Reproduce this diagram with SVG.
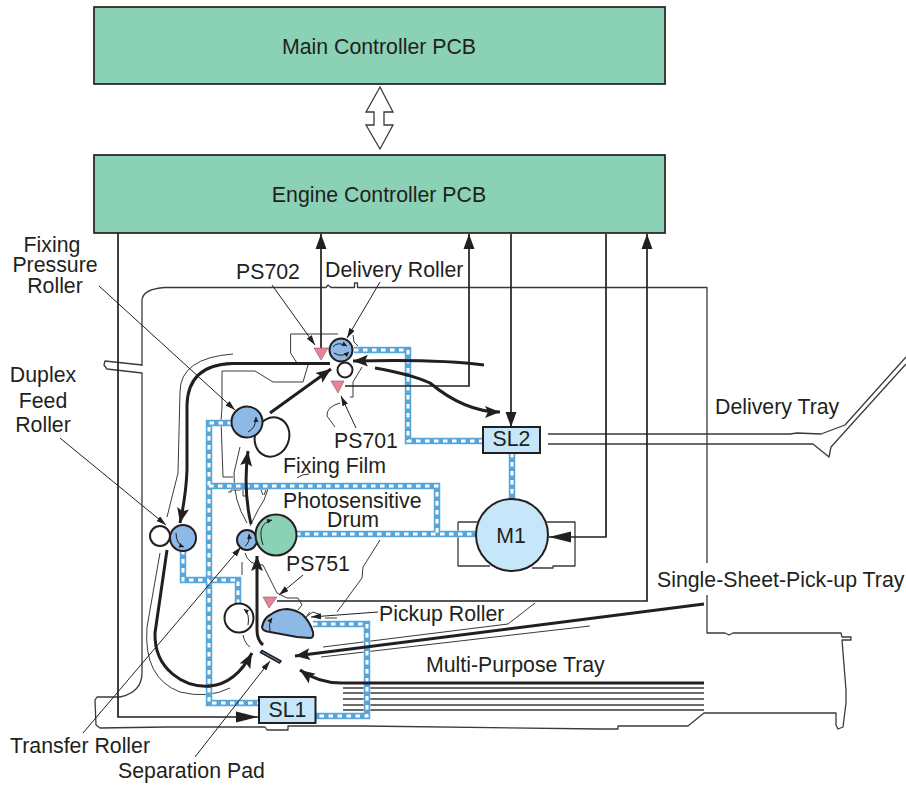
<svg xmlns="http://www.w3.org/2000/svg" width="906" height="785" viewBox="0 0 906 785">
<style>
text{font-family:"Liberation Sans",Arial,sans-serif;font-size:21.300px;fill:#231f20}
.m{text-anchor:middle}
.o{fill:none;stroke:#3a3a3a;stroke-width:1.3;stroke-linejoin:round}
.t{fill:none;stroke:#3a3a3a;stroke-width:1}
.sig{fill:none;stroke:#231f20;stroke-width:1.7}
.pth{fill:none;stroke:#231f20;stroke-width:3}
.lead{fill:none;stroke:#231f20;stroke-width:1;marker-end:url(#la)}
.pcb{fill:#8ad1b5;stroke:#231f20;stroke-width:1.7}
.r{stroke:#231f20;stroke-width:2}
.bl{fill:#8cb9e5}.wh{fill:#fff}.gr{fill:#8ad1b5}.lb{fill:#c5e7f9}.pk{fill:#ed7f97;stroke:#666;stroke-width:.6}
.rot{fill:none;stroke:#231f20;stroke-width:1;marker-end:url(#ra)}
.d0{fill:none;stroke:#a9d5f0;stroke-width:7}
.d1{fill:none;stroke:#58a6d9;stroke-width:6}
.d2{fill:none;stroke:#fff;stroke-width:3;stroke-dasharray:4.500 4.500}
</style>
<defs>
<marker id="sa" markerUnits="userSpaceOnUse" markerWidth="16" markerHeight="12" refX="15" refY="6" orient="auto"><path d="M0 .5L15 6L0 11.500Z" fill="#231f20"/></marker>
<marker id="sl" markerUnits="userSpaceOnUse" markerWidth="23" markerHeight="12" refX="22" refY="6" orient="auto"><path d="M0 .5L22 6L0 11.500Z" fill="#231f20"/></marker>
<marker id="ta" markerUnits="userSpaceOnUse" markerWidth="16" markerHeight="14" refX="15" refY="7" orient="auto"><path d="M0 1L15 7L0 13L3 7Z" fill="#231f20"/></marker>
<marker id="la" markerUnits="userSpaceOnUse" markerWidth="11" markerHeight="6" refX="10" refY="3" orient="auto"><path d="M0 0L10 3L0 6Z" fill="#231f20"/></marker>
<marker id="ra" markerUnits="userSpaceOnUse" markerWidth="6" markerHeight="6" refX="5" refY="3" orient="auto"><path d="M0 .5L5 3L0 5.500Z" fill="#231f20"/></marker>
</defs>

<g id="outline">
<path class="o" d="M142 366V300Q143 289 165 287.500H326L328 285L331 287.500H354.500V283H357.500V287.500H707V563M707 595V633H725L729 635L733 633H841L842 637H851V640H842L846 690V703L843 727L838 729L836 725V713H704L688 726H618V729H600L362 726H288V730H267L265 727H167L100 728L96 725L95 700L97 697H120Q142 692 142 673V373L107 369L104 365L105 361L142 365"/>
<path class="o" d="M548 434H790L797 433L821 434L845 425L906 357M548 444H813L829 457L831 447L906 364"/>
<path class="o" d="M458 522H477M458 522V566H490M547 522H575V566H553V568H532"/>
<path class="t" d="M233 354Q180 358 180 392L178 473L167 517M160 553L147 627Q143 678 180 692Q208 699 230 688"/>
<path class="t" d="M222 371H255L273 382H303L308 365M222 371V408L221 420L223 477H233"/>
<path class="t" d="M240 447L234 473Q233 500 247 523"/>
<path class="t" d="M228 492H231V490H240L243 488V496H247M243 489H268L264 500L258 510L250 526M261 490L263 495M266 490L264 495"/>
<path class="t" d="M290.600 334V353L297 363M290.600 334H338M353 335L354 342L358 346M362 367L353 382V397H350M340 403Q326 407 327 416L335 427"/>
<path class="t" d="M245 553Q248 565 263 565L277 593L287 598H298L302 605L298 610M310 612L306 617L313 612L321 615M242 562V575M243 635Q245 644 250 647"/>
<path class="t" d="M380 540L363 567L362 578L337 612M325 618H337"/>
<path class="t" d="M297 478Q302 474 309 474"/>
<path class="t" d="M323 647L508 624L535 603M321 657L590 626"/>
<path class="o" d="M343 688H704M343 693H704M343 699H704M343 705H704M343 710H704"/>
</g>

<g id="connectors">
<path class="d0" d="M354 350H408V441H483M232 423H209V703H259M183 550V580H209M238 604V580H209M209 486H437V534M296 534H475M512 453V500M313 624H367V716H316"/>
<path class="d1" d="M354 350H408V441H483M232 423H209V703H259M183 550V580H209M238 604V580H209M209 486H437V534M296 534H475M512 453V500M313 624H367V716H316"/>
<path class="d2" d="M354 350H408V441H483M232 423H209V703H259M183 550V580H209M238 604V580H209M209 486H437V534M296 534H475M512 453V500M313 624H367V716H316"/>

<path class="sig" marker-end="url(#sl)" d="M118 233V717H258"/>
<path class="sig" marker-end="url(#sa)" d="M321 349V234"/>
<path class="sig" marker-end="url(#sa)" d="M345 386H469V234"/>
<path class="sig" marker-end="url(#sa)" d="M511 234V427"/>
<path class="sig" marker-end="url(#sl)" d="M606 234V537H549"/>
<path class="sig" marker-end="url(#sa)" d="M277 601H647V234"/>

<path class="pth" marker-end="url(#ta)" d="M330 363.500H232Q188 365 187 405L187 470Q186 495 180 523"/>
<path class="pth" marker-end="url(#ta)" d="M167 550L155 633C154 670 185 688 210 686C232 684 244 668 252 653"/>
<path class="pth" marker-end="url(#ta)" d="M263 645Q257 640 257 630V556"/>
<path class="pth" marker-end="url(#ta)" d="M251 524Q243 490 248 451"/>
<path class="pth" marker-end="url(#ta)" d="M270 413L331 369"/>
<path class="pth" marker-end="url(#ta)" d="M484 365Q440 359 353 361"/>
<path class="pth" marker-end="url(#ta)" d="M375 368Q410 374 430 383Q465 412 500 412"/>
<path class="pth" marker-end="url(#ta)" d="M704 604L295 656"/>
<path class="pth" marker-end="url(#ta)" d="M704 683H345Q320 684 300 670"/>

<path class="lead" d="M99 286L235 410"/>
<path class="lead" d="M60 438L166 525"/>
<path class="lead" d="M83 733L241 547"/>
<path class="lead" d="M195 757L270 661"/>
<path class="lead" d="M272 285L315 345"/>
<path class="lead" d="M380 282L347 338"/>
<path class="lead" d="M356 428L341 396"/>
<path class="lead" d="M303 575L279 595"/>
<path class="lead" d="M378 612L311 617"/>
</g>

<g id="main-pcb"><rect class="pcb" x="94" y="7" width="571" height="77"/><text class="m" x="379" y="54">Main Controller PCB</text></g>
<g id="engine-pcb"><rect class="pcb" x="94" y="155" width="571" height="78"/><text class="m" x="379" y="202">Engine Controller PCB</text></g>
<g id="bus"><path d="M380 87L393 112H384V125H393L380 149L366 125H374V112H366Z" fill="#fff" stroke="#3a3a3a" stroke-width="1.300"/></g>

<g id="delivery-roller"><circle class="r bl" cx="341" cy="350" r="11.500"/><path class="rot" d="M333 347Q337 341 347 346"/><path class="rot" d="M334 353Q342 358 349 352"/><text x="325" y="277">Delivery Roller</text></g>
<g id="delivery-idler"><circle class="r wh" cx="345" cy="370" r="7.500"/></g>
<g id="ps702"><path class="pk" d="M314 348H328L321 360Z"/><text x="236" y="279">PS702</text></g>
<g id="ps701"><path class="pk" d="M331 381H344L338 393Z"/><text x="334" y="448">PS701</text></g>
<g id="ps751"><path class="pk" d="M263 597H277L269 608Z"/><text x="286" y="571">PS751</text></g>

<g id="fixing-film"><ellipse class="r wh" cx="272" cy="437" rx="17" ry="20" transform="rotate(20 272 437)"/><text x="283" y="473">Fixing Film</text></g>
<g id="fixing-pressure-roller"><circle class="r bl" cx="247" cy="422" r="15.500"/><path class="rot" d="M248 432Q256 428 256 417"/><text class="m" x="52" y="252">Fixing</text><text class="m" x="55" y="272">Pressure</text><text class="m" x="55" y="293">Roller</text></g>

<g id="duplex-feed-roller"><circle class="r bl" cx="183" cy="538" r="13"/><path class="rot" d="M176 533Q176 544 184 547"/><circle class="r wh" cx="160" cy="536" r="10"/><text class="m" x="43" y="382">Duplex</text><text class="m" x="43" y="408">Feed</text><text class="m" x="43" y="432">Roller</text></g>

<g id="transfer-roller"><circle class="r bl" cx="247" cy="540" r="10"/><path class="rot" d="M245 546Q250 543 249 534"/><text x="10" y="753">Transfer Roller</text></g>
<g id="drum"><circle class="r gr" cx="276" cy="535" r="20.500"/><path class="rot" d="M263 545Q256 524 272 520"/><text x="283" y="508">Photosensitive</text><text x="327" y="527">Drum</text></g>

<g id="white-roller"><circle class="r wh" cx="239" cy="618" r="14.500"/><path class="rot" d="M248 625Q250 614 244 609"/></g>
<g id="pickup-roller"><path class="r bl" d="M262 627Q264 618 270 615Q278 609 287 609Q297 610 303 615Q310 622 313 632Q314 638 310 638L297 637L270 632Q262 631 262 627Z"/><path class="rot" d="M270 631Q268 624 272 618"/><text x="379" y="621">Pickup Roller</text></g>
<g id="separation-pad"><path d="M262 650.500L281 661L279.500 663L260.500 652.500Z" fill="#58a6d9" stroke="#231f20" stroke-width="1.500"/><text x="118" y="778">Separation Pad</text></g>

<g id="sl1"><rect class="lb" x="259" y="697" width="56.500" height="26" stroke="#231f20" stroke-width="2"/><text class="m" x="287.500" y="717">SL1</text></g>
<g id="sl2"><rect class="lb" x="483" y="427" width="57" height="26" stroke="#231f20" stroke-width="2"/><text class="m" x="511.500" y="446">SL2</text></g>
<g id="m1"><circle class="lb" cx="512" cy="535" r="36" stroke="#231f20" stroke-width="2"/><text class="m" x="511" y="543">M1</text></g>

<g id="tray-labels">
<text x="715" y="414">Delivery Tray</text>
<text x="657" y="587">Single-Sheet-Pick-up Tray</text>
<text x="426" y="672">Multi-Purpose Tray</text>
</g>
</svg>
